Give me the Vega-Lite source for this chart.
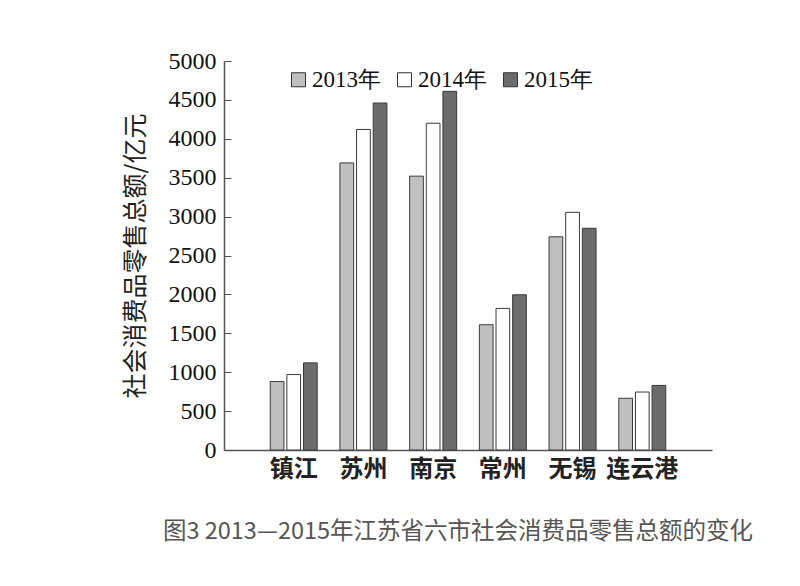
{
  "$schema": "https://vega.github.io/schema/vega-lite/v6.json",
  "width": 488,
  "height": 389,
  "autosize": {"type": "none"},
  "padding": {"left": 224, "top": 61, "right": 88, "bottom": 136},
  "background": "white",
  "config": {"view": {"stroke": null}},
  "title": {
    "text": "图3 2013—2015年江苏省六市社会消费品零售总额的变化",
    "orient": "bottom",
    "anchor": "middle",
    "dx": -10,
    "offset": 39,
    "font": "Noto Sans CJK SC",
    "fontSize": 23.5,
    "fontWeight": "normal",
    "color": "#555"
  },
  "data": {
    "values": [
      {"city": "镇江", "year": "2013年", "value": 880},
      {"city": "镇江", "year": "2014年", "value": 970},
      {"city": "镇江", "year": "2015年", "value": 1120},
      {"city": "苏州", "year": "2013年", "value": 3690},
      {"city": "苏州", "year": "2014年", "value": 4120},
      {"city": "苏州", "year": "2015年", "value": 4460},
      {"city": "南京", "year": "2013年", "value": 3520},
      {"city": "南京", "year": "2014年", "value": 4200},
      {"city": "南京", "year": "2015年", "value": 4610},
      {"city": "常州", "year": "2013年", "value": 1610},
      {"city": "常州", "year": "2014年", "value": 1820},
      {"city": "常州", "year": "2015年", "value": 1995},
      {"city": "无锡", "year": "2013年", "value": 2740},
      {"city": "无锡", "year": "2014年", "value": 3055},
      {"city": "无锡", "year": "2015年", "value": 2850},
      {"city": "连云港", "year": "2013年", "value": 665},
      {"city": "连云港", "year": "2014年", "value": 745},
      {"city": "连云港", "year": "2015年", "value": 830}
    ]
  },
  "mark": {"type": "bar", "stroke": "#3a3a3a", "strokeWidth": 1},
  "encoding": {
    "x": {
      "field": "city",
      "type": "nominal",
      "sort": ["镇江", "苏州", "南京", "常州", "无锡", "连云港"],
      "scale": {"paddingInner": 0.326, "paddingOuter": 0.663},
      "axis": {
        "title": null,
        "labelAngle": 0,
        "ticks": false,
        "domainColor": "#555",
        "domainWidth": 1.5,
        "labelFont": "Noto Sans CJK SC",
        "labelFontSize": 24,
        "labelFontWeight": "bold",
        "labelColor": "#222",
        "labelPadding": 7
      }
    },
    "xOffset": {
      "field": "year",
      "type": "nominal",
      "sort": ["2013年", "2014年", "2015年"],
      "scale": {"paddingInner": 0.176, "paddingOuter": 0}
    },
    "y": {
      "field": "value",
      "type": "quantitative",
      "scale": {"domain": [0, 5000], "nice": false},
      "axis": {
        "values": [0, 500, 1000, 1500, 2000, 2500, 3000, 3500, 4000, 4500, 5000],
        "format": "d",
        "grid": false,
        "domainColor": "#555",
        "domainWidth": 1.5,
        "tickColor": "#555",
        "tickSize": -7,
        "labelFont": "Liberation Serif",
        "labelFontSize": 24,
        "labelColor": "#111",
        "labelPadding": 15,
        "title": "社会消费品零售总额/亿元",
        "titleFont": "Noto Sans CJK SC",
        "titleFontSize": 25,
        "titleFontWeight": "normal",
        "titleColor": "#222",
        "titlePadding": 20
      }
    },
    "color": {
      "field": "year",
      "type": "nominal",
      "scale": {"domain": ["2013年", "2014年", "2015年"], "range": ["#c0c0c0", "#ffffff", "#6c6c6c"]},
      "legend": {
        "title": null,
        "orient": "none",
        "legendX": 63,
        "legendY": 7,
        "direction": "horizontal",
        "symbolType": "square",
        "symbolSize": 196,
        "symbolStrokeColor": "#333",
        "symbolStrokeWidth": 1,
        "symbolOpacity": 1,
        "labelFont": "Liberation Serif",
        "labelFontSize": 23,
        "labelColor": "#111",
        "labelOffset": 2,
        "columnPadding": 12
      }
    }
  }
}
